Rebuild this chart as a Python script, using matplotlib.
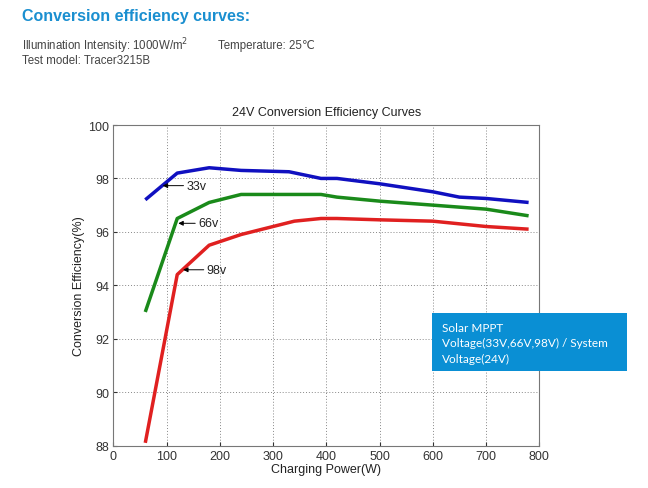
import matplotlib
matplotlib.use("Agg")
import matplotlib.pyplot as plt
from matplotlib.patches import Rectangle

plt.rcParams["font.family"] = ["Liberation Sans", "DejaVu Sans"]

# Data
x_33v = [60, 120, 180, 240, 330, 390, 420, 500, 600, 650, 700, 780]
y_33v = [97.2, 98.2, 98.4, 98.3, 98.25, 98.0, 98.0, 97.8, 97.5, 97.3, 97.25, 97.1]
x_66v = [60, 120, 180, 240, 390, 420, 500, 600, 700, 780]
y_66v = [93.0, 96.5, 97.1, 97.4, 97.4, 97.3, 97.15, 97.0, 96.85, 96.6]
x_98v = [60, 120, 180, 240, 300, 340, 390, 420, 500, 600, 650, 700, 780]
y_98v = [88.1, 94.4, 95.5, 95.9, 96.2, 96.4, 96.5, 96.5, 96.45, 96.4, 96.3, 96.2, 96.1]
x_ticks = [0, 100, 200, 300, 400, 500, 600, 700, 800]
y_ticks = [88, 90, 92, 94, 96, 98, 100]
labels = ["33v", "66v", "98v"]
label_tips = [(92.7, 97.73), (122, 96.32), (131, 94.58)]
label_text = [(137, 97.73), (159, 96.32), (175, 94.58)]

fig = plt.figure(figsize=(6.48, 4.89), dpi=100)
ax = fig.add_axes([0.1749, 0.0869, 0.8322 - 0.1749, 0.7423 - 0.0869])

ax.plot(x_33v, y_33v, color="#1010c0", lw=2.5, solid_capstyle="butt")
ax.plot(x_66v, y_66v, color="#1a8a1a", lw=2.5, solid_capstyle="butt")
ax.plot(x_98v, y_98v, color="#e02020", lw=2.5, solid_capstyle="butt")

ax.set_xlim(0, 800)
ax.set_ylim(88, 100)
ax.set_xticks(x_ticks)
ax.set_yticks(y_ticks)
ax.tick_params(direction="in", length=3, labelsize=9, colors="#333333", pad=3)
ax.grid(True, linestyle=(0, (1, 2)), color="#888888", lw=0.7)
for s in ax.spines.values():
    s.set_color("#777777")
    s.set_linewidth(0.8)

ax.set_xlabel("Charging Power(W)", fontsize=9, color="#222222", labelpad=1)
ax.set_ylabel("Conversion Efficiency(%)", fontsize=9, color="#222222", labelpad=2)
ax.set_title("24V Conversion Efficiency Curves", fontsize=9, color="#222222", pad=7)

for lab, tip, txt in zip(labels, label_tips, label_text):
    ax.annotate(lab, xy=tip, xytext=txt, fontsize=9, color="#222222", va="center",
                arrowprops=dict(arrowstyle="-|>", color="black", lw=0.7, mutation_scale=7,
                                shrinkA=0, shrinkB=0))

fig.text(22 / 648, 1 - 16 / 489, "Conversion efficiency curves:", fontsize=11.5, fontweight="bold",
         color="#1a8fd0", va="center", ha="left")
fig.text(22 / 648, 1 - 46 / 489, "Illumination Intensity: 1000W/m$^2$", fontsize=8.3,
         color="#444444", va="center", ha="left")
fig.text(218 / 648, 1 - 46 / 489, "Temperature: 25\u2103", fontsize=8.3,
         color="#444444", va="center", ha="left")
fig.text(22 / 648, 1 - 61 / 489, "Test model: Tracer3215B", fontsize=8.3,
         color="#444444", va="center", ha="left")

bx0, bx1, by0, by1 = 432, 627, 314, 372
fig.patches.append(Rectangle((bx0 / 648, 1 - by1 / 489), (bx1 - bx0) / 648, (by1 - by0) / 489,
                             transform=fig.transFigure, facecolor="#0a8fd4", edgecolor="none",
                             zorder=5))
fig.text(442 / 648, 1 - 344 / 489, "Solar MPPT\nVoltage(33V,66V,98V) / System\nVoltage(24V)",
         fontsize=8.5, color="white", va="center", ha="left", family="Lato",
         linespacing=1.5, zorder=6)

fig.savefig("out.png", dpi=100)
